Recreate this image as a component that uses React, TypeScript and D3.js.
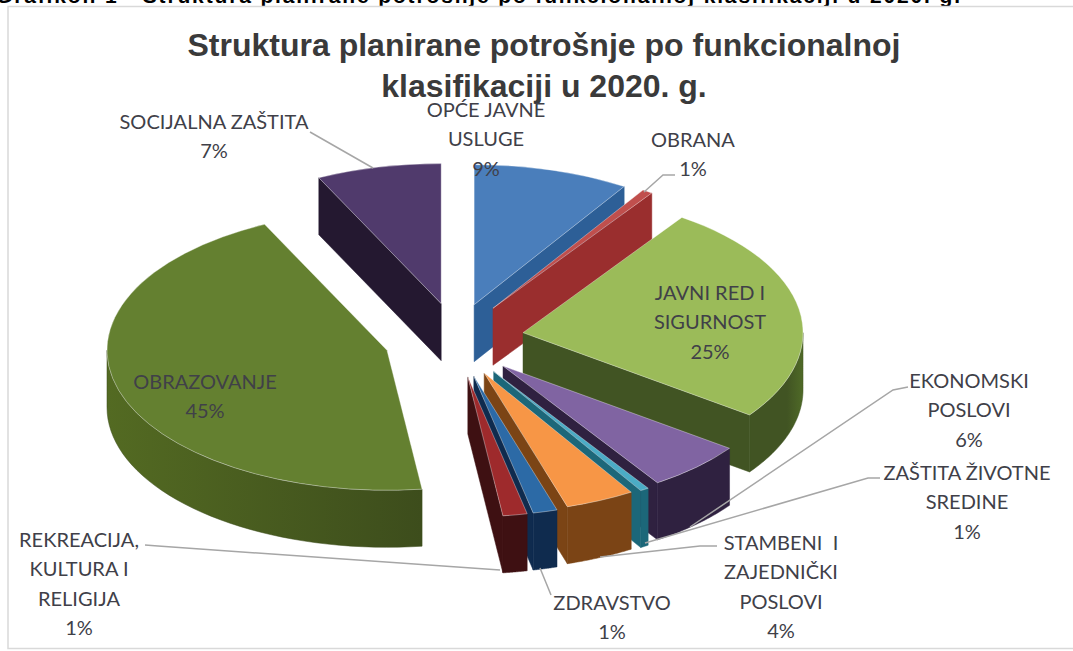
import React from "react";
import * as d3 from "d3";

const W = 1073, H = 651;

const categories = ["OPĆE JAVNE USLUGE","OBRANA","JAVNI RED I SIGURNOST","EKONOMSKI POSLOVI","ZAŠTITA ŽIVOTNE SREDINE","STAMBENI I ZAJEDNIČKI POSLOVI","ZDRAVSTVO","REKREACIJA, KULTURA I RELIGIJA","OBRAZOVANJE","SOCIJALNA ZAŠTITA"];
const values = [9, 0.6, 25.4, 5.7, 0.5, 4, 1.4, 1.4, 44.8, 7.2];
const topColors = ["#4a7ebb","#c04f4d","#9bbb59","#8064a2","#4bacc6","#f79646","#2c6aa6","#9e2a2c","#648030","#503a6c"];
const wallColors = ["#2d5f97","#9a2e2e","#415423","#2f2140","#1c6779","#7b4415","#0f2b4e","#3e1012","#3d4d1c","#241830"];
const wallLight = ["#3a70ad","#a83535","#4f6a27","#3a2a4e","#2a7f93","#8c5019","#163661","#4a1416","#536a22","#2c1e3a"];
const explosions = [65, 67, 68, 68, 70, 68, 70, 70, 72, 66];
const labelLines = [
  ["OPĆE JAVNE","USLUGE","9%"],["OBRANA","1%"],["JAVNI RED I","SIGURNOST","25%"],["EKONOMSKI","POSLOVI","6%"],
  ["ZAŠTITA ŽIVOTNE","SREDINE","1%"],["STAMBENI  I","ZAJEDNIČKI","POSLOVI","4%"],["ZDRAVSTVO","1%"],
  ["REKREACIJA,","KULTURA I","RELIGIJA","1%"],["OBRAZOVANJE","45%"],["SOCIJALNA ZAŠTITA","7%"],
];
const labelCenters: [number, number][] = [[486,110],[693,140],[710,293],[969,381],[967,473],[781,543],[612,603],[79,540],[205,382],[214,122]];
const leaders: [number, number][][] = [
  [],[[675,175],[663,175],[644,192]],[],[[908,387],[893,390],[690,527]],[[880,478],[868,478],[645,543]],
  [[717,546],[700,546],[600,557]],[[551,595],[540,568]],[[145,545],[158,546],[500,570]],[],[[310,132],[373,168]],
];
const titleLines = ["Struktura planirane potrošnje po funkcionalnoj","klasifikaciji u 2020. g."];
const caption = "Grafikon 1 - Struktura planirane potrošnje po funkcionalnoj klasifikaciji u 2020. g.";

const cx = 456, cy = 339, R = 280, tilt = 0.5, explodeTilt = 0.55, depth = 57;
const drawOrder = [0, 1, 2, 9, 8, 3, 4, 5, 6, 7];

const pie = d3.pie<number>().sort(null)(values);
const arc = d3.arc();
const line = d3.line();

function App() {
  const slices = pie.map((p, i) => {
    const m = (p.startAngle + p.endAngle) / 2;
    const ax = cx + explosions[i] * Math.sin(m);
    const ay = cy - explosions[i] * Math.cos(m) * explodeTilt;
    const pt = (a: number, r: number, z = 0): [number, number] => [ax + r * Math.sin(a), ay - r * Math.cos(a) * tilt + z];
    const walls: string[] = [];
    const wallQuad = (a: number) => line([pt(a, 0), pt(a, R), pt(a, R, depth), pt(a, 0, depth)])! + "Z";
    if (Math.cos(p.startAngle - Math.PI / 2) < -1e-6) walls.push(wallQuad(p.startAngle));
    if (Math.cos(p.endAngle + Math.PI / 2) < -1e-6) walls.push(wallQuad(p.endAngle));
    const a0 = Math.max(p.startAngle, Math.PI / 2), a1 = Math.min(p.endAngle, 1.5 * Math.PI);
    let rim = "";
    if (a1 > a0) {
      const arcAngles = d3.range(0, 41).map(k => a0 + (a1 - a0) * k / 40);
      rim = line([...arcAngles.map(a => pt(a, R)), ...arcAngles.slice().reverse().map(a => pt(a, R, depth))])! + "Z";
    }
    const top = arc({ innerRadius: 0, outerRadius: R, startAngle: p.startAngle, endAngle: p.endAngle } as any)!;
    return { i, ax, ay, walls, rim, top };
  });
  return (
    <svg width={W} height={H} style={{ position: "absolute", left: 0, top: 0 }}>
      <defs>
        {values.map((_, i) => (
          <linearGradient key={i} id={`g${i}`} x1="0" x2="1" y1="0" y2="0">
            <stop offset="0" stopColor={i === 8 ? wallLight[i] : wallColors[i]} />
            <stop offset={i === 2 ? "0.7" : "1"} stopColor={wallColors[i]} />
            {i === 2 && <stop offset="1" stopColor={wallLight[i]} />}
          </linearGradient>
        ))}
      </defs>
      <rect x={0} y={0} width={W} height={H} fill="#fff" />
      <text x={-4} y={3} fontFamily="Liberation Sans" fontWeight="700" fontSize={21} fill="#000" textLength={964}>{caption}</text>
      <rect x={8} y={6.5} width={1080} height={642} fill="#fff" stroke="#d9d9d9" strokeWidth={1.5} />
      {titleLines.map((t, k) => (
        <text key={k} x={544} y={56 + k * 41} textAnchor="middle" fontFamily="Liberation Sans" fontWeight="700" fontSize={32} fill="#3a3a3a">{t}</text>
      ))}
      {drawOrder.map(idx => {
        const s = slices[idx];
        return (
          <g key={idx}>
            {s.walls.map((d, k) => <path key={k} d={d} fill={wallColors[idx]} stroke={wallColors[idx]} strokeWidth={0.5} />)}
            {s.rim && <path d={s.rim} fill={`url(#g${idx})`} stroke={wallColors[idx]} strokeWidth={0.5} />}
            <path d={s.top} transform={`translate(${s.ax},${s.ay}) scale(1,${tilt})`} fill={topColors[idx]} stroke="#ffffff" strokeOpacity={0.35} strokeWidth={1} vectorEffect="non-scaling-stroke" />
          </g>
        );
      })}
      {leaders.map((pts, i) => pts.length > 0 && <path key={i} d={line(pts)!} fill="none" stroke="#a6a6a6" strokeWidth={1.5} />)}
      {labelLines.map((ls, i) => ls.map((t, k) => (
        <text key={`${i}-${k}`} x={labelCenters[i][0]} y={labelCenters[i][1] + k * 29.3} dy="0.35em" textAnchor="middle" fontFamily="Lato" fontSize={20} fill="#404048" style={{ whiteSpace: "pre" }}>{t}</text>
      )))}
    </svg>
  );
}

export default App;
